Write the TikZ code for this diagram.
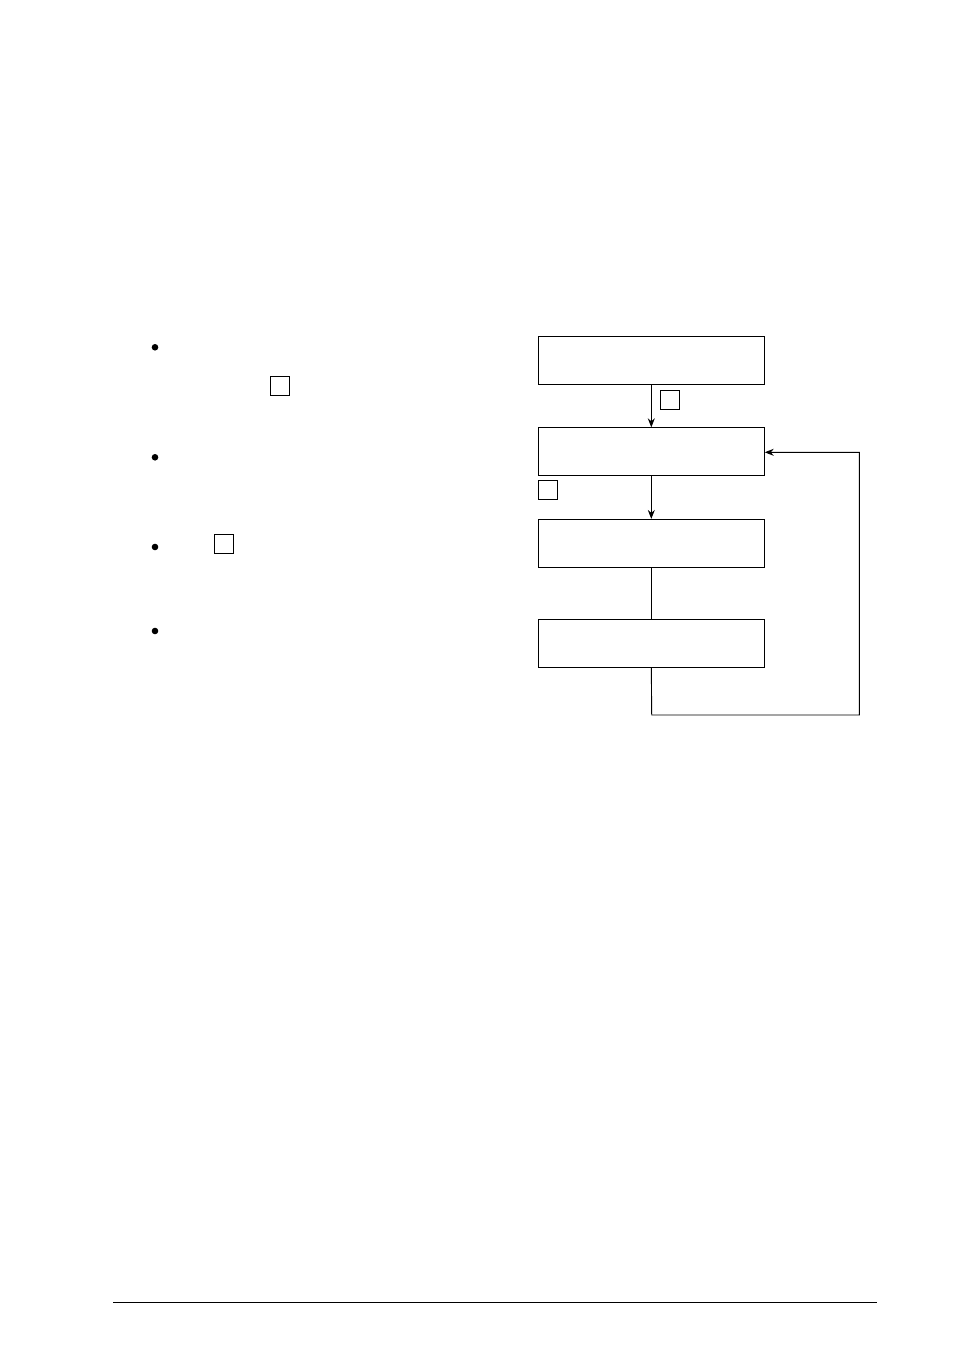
\documentclass[tikz,border=0pt]{standalone}
\usetikzlibrary{arrows.meta}
\begin{document}
\begin{tikzpicture}[x=1pt,y=-1pt,
  line width=0.9pt,
  flowbox/.style={draw, rectangle, minimum width=226pt, minimum height=47.7pt, inner sep=0pt, line width=0.9pt},
  tag/.style={draw, rectangle, minimum width=19pt, minimum height=19pt, inner sep=0pt, line width=0.8pt},
  dot/.style={fill, circle, minimum size=6.6pt, inner sep=0pt},
  arr/.style={-{Stealth[length=9pt,width=7pt,inset=3pt]}}]
\useasboundingbox (0,0) rectangle (954,1351);
% flow boxes
\node[flowbox] (b1) at (651.3,360.2) {};
\node[flowbox] (b2) at (651.3,451.6) {};
\node[flowbox] (b3) at (651.3,543.2) {};
\node[flowbox] (b4) at (651.3,643.2) {};
\coordinate (c1) at (651.7,715);
\coordinate (c2) at (859.3,715);
\coordinate (c3) at (859.3,452.3);
\draw[arr] (b1.south) -- (b2.north);
\draw[arr] (b2.south) -- (b3.north);
\draw (b3.south) -- (b4.north);
\draw[arr] (b4.south) -- (c1) -- (c2) -- (c3) -- (b2.east |- c3);
% small tags
\node[tag] (t1) at (669.8,399.8) {};
\node[tag] (t2) at (547.8,489.8) {};
\node[tag] (t3) at (279.8,385.5) {};
\node[tag] (t4) at (223.8,543.8) {};
% bullets
\node[dot] (d1) at (155,347.3) {};
\node[dot] (d2) at (155,457.3) {};
\node[dot] (d3) at (155,547) {};
\node[dot] (d4) at (155,631) {};
% footer rule
\coordinate (f1) at (113,1302.3);
\coordinate (f2) at (876.7,1302.3);
\draw (f1) -- (f2);
\end{tikzpicture}
\end{document}
